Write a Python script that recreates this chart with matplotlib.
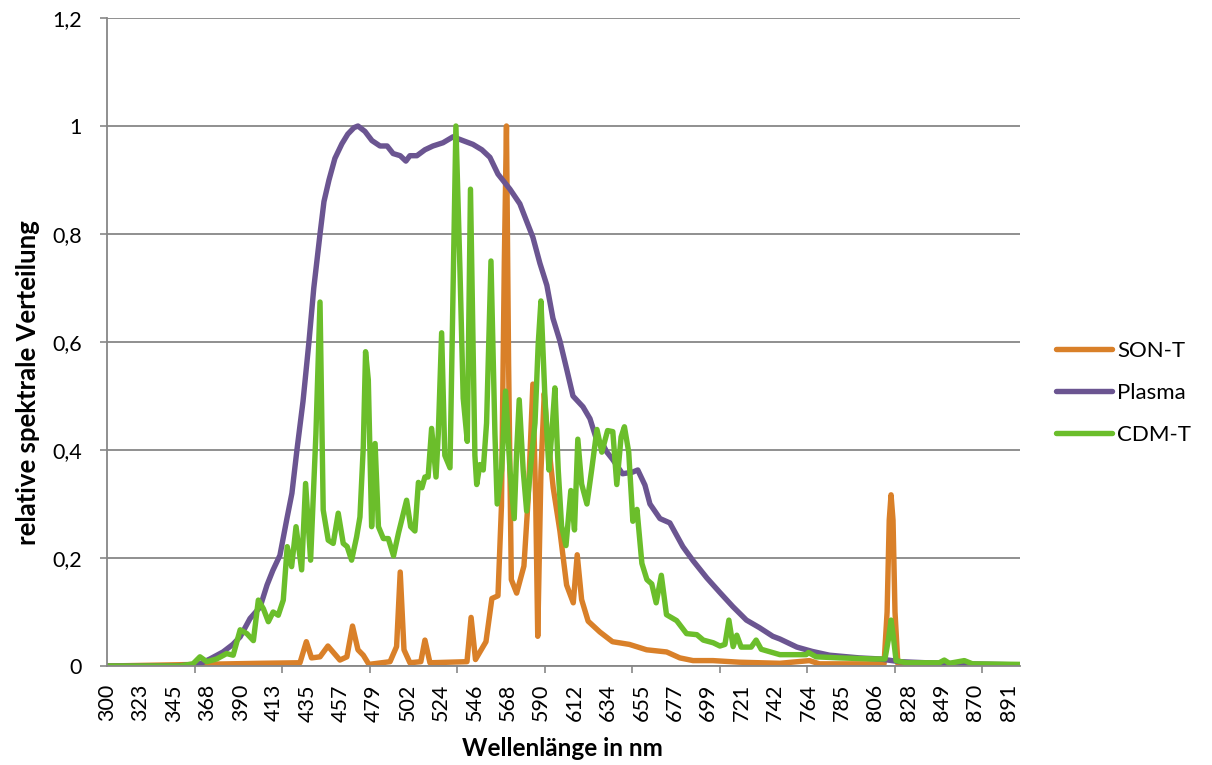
import numpy as np
import matplotlib
matplotlib.use("Agg")
import matplotlib.pyplot as plt

plt.rcParams['font.family'] = ['Lato', 'DejaVu Sans']

# Category labels on the wavelength axis (nm)
label_nm = [300, 323, 345, 368, 390, 413, 435, 457, 479, 502, 524, 546, 568, 590,
            612, 634, 655, 677, 699, 721, 742, 764, 785, 806, 828, 849, 870, 891]
axis_end_nm = 898

# SON-T (high pressure sodium)
son_nm = [300, 403.4, 430.1, 434.3, 437.7, 443.3, 448.5, 456.4, 461.0, 464.7, 468.3, 471.8,
          475.5, 489.9, 494.4, 496.9, 499.5, 503.5, 510.7, 513.4, 516.7, 541.1, 543.8, 546.7,
          553.6, 557.5, 561.5, 563.8, 565.7, 567.1, 568.5, 570.3, 573.8, 578.6, 581.4, 584.5,
          586.4, 587.7, 589.8, 592.0, 593.7, 597.9, 602.3, 606.7, 611.1, 613.7, 616.6, 620.9,
          628.6, 636.8, 647.4, 658.4, 671.6, 680.3, 689.0, 702.1, 719.6, 745.2, 764.6, 770.9,
          811.8, 813.8, 815.2, 816.4, 817.7, 819.0, 820.9, 898]
son_val = [0, 0.005, 0.006, 0.045, 0.015, 0.017, 0.037, 0.011, 0.017, 0.074, 0.03, 0.02,
           0.003, 0.008, 0.036, 0.174, 0.03, 0.006, 0.008, 0.048, 0.006, 0.008, 0.09, 0.012,
           0.045, 0.125, 0.13, 0.296, 0.75, 1.0, 0.56, 0.16, 0.135, 0.185, 0.31, 0.522,
           0.3, 0.055, 0.36, 0.505, 0.44, 0.33, 0.25, 0.15, 0.117, 0.206, 0.123, 0.083,
           0.063, 0.045, 0.04, 0.03, 0.026, 0.015, 0.01, 0.01, 0.007, 0.005, 0.01, 0.004,
           0.004, 0.1, 0.27, 0.317, 0.27, 0.1, 0.004, 0.002]

# Plasma lamp
plasma_nm = [300, 347.2, 363.0, 369.8, 378.4, 384.9, 389.7, 396.5, 403.4, 408.2, 412.2, 416.9,
             421.5, 424.8, 428.1, 432.1, 436.0, 439.2, 443.3, 445.9, 449.2, 453.1, 457.7, 461.6,
             465.7, 468.3, 472.9, 477.5, 483.0, 487.9, 492.0, 496.9, 500.8, 503.5, 508.1, 513.4,
             518.7, 525.3, 531.9, 538.4, 545.0, 550.9, 556.2, 561.5, 569.4, 575.9, 580.6, 584.5,
             589.1, 593.7, 597.7, 602.3, 606.9, 610.9, 617.5, 622.1, 626.7, 630.5, 633.0, 636.8,
             643.1, 649.4, 652.7, 657.3, 660.6, 667.2, 673.7, 682.3, 689.0, 698.1, 706.7, 715.2,
             724.0, 732.2, 740.6, 745.2, 756.4, 766.4, 777.2, 796.0, 809.2, 822.1, 847.3, 898]
plasma_val = [0, 0, 0.004, 0.013, 0.026, 0.04, 0.054, 0.088, 0.109, 0.15, 0.177, 0.205,
              0.273, 0.32, 0.4, 0.49, 0.6, 0.7, 0.8, 0.86, 0.9, 0.94, 0.967, 0.985,
              0.997, 1.0, 0.99, 0.973, 0.963, 0.963, 0.949, 0.945, 0.935, 0.945, 0.945, 0.956,
              0.963, 0.969, 0.98, 0.973, 0.966, 0.956, 0.942, 0.911, 0.883, 0.856, 0.822, 0.794,
              0.746, 0.705, 0.644, 0.602, 0.548, 0.5, 0.48, 0.458, 0.417, 0.411, 0.397, 0.383,
              0.356, 0.359, 0.363, 0.335, 0.3, 0.273, 0.265, 0.221, 0.195, 0.163, 0.136, 0.11,
              0.085, 0.071, 0.055, 0.05, 0.035, 0.027, 0.02, 0.015, 0.013, 0.008, 0.005, 0.002]

# CDM-T (ceramic metal halide)
cdm_nm = [300, 349.3, 358.2, 363.0, 367.7, 374.2, 380.8, 385.1, 389.7, 394.3,
          398.8, 402.2, 405.7, 409.1, 412.4, 415.8, 419.1, 421.7, 424.6, 427.5,
          431.2, 433.8, 437.1, 440.6, 443.3, 445.4, 448.7, 452.0, 455.3, 458.6,
          461.2, 464.1, 467.4, 469.6, 471.8, 473.3, 475.1, 477.3, 479.6, 481.9,
          485.3, 488.7, 492.3, 495.7, 499.1, 501.3, 504.0, 506.8, 509.1, 511.4,
          513.4, 515.5, 517.8, 520.7, 522.2, 524.4, 526.5, 529.9, 533.8, 536.5,
          538.6, 541.3, 543.4, 546.3, 547.5, 549.6, 551.8, 554.0, 556.9, 559.5,
          561.0, 563.9, 566.5, 569.4, 572.2, 573.8, 575.5, 578.1, 580.4, 583.7,
          585.9, 588.0, 589.8, 592.4, 595.1, 596.9, 599.0, 601.2, 603.4, 606.3,
          609.5, 611.9, 614.1, 616.6, 620.1, 623.2, 626.7, 629.9, 633.7, 637.0,
          639.5, 642.2, 644.3, 647.0, 649.6, 652.2, 655.3, 658.6, 661.8, 664.7,
          668.1, 671.5, 678.2, 684.7, 691.5, 695.7, 702.3, 706.7, 710.0, 712.6,
          715.4, 717.8, 720.7, 727.0, 730.1, 733.3, 745.2, 762.5, 764.0, 768.8,
          783.4, 804.7, 812.4, 814.7, 816.4, 818.1, 819.7, 826.4, 847.3, 850.4,
          853.6, 863.0, 868.1, 898]
cdm_val = [0, 0, 0.004, 0.017, 0.008, 0.013, 0.023, 0.02, 0.067, 0.06,
           0.047, 0.122, 0.106, 0.082, 0.1, 0.094, 0.122, 0.221, 0.184, 0.258,
           0.178, 0.338, 0.196, 0.43, 0.674, 0.289, 0.233, 0.227, 0.283, 0.227,
           0.221, 0.196, 0.239, 0.276, 0.406, 0.582, 0.53, 0.258, 0.412, 0.258,
           0.236, 0.236, 0.204, 0.246, 0.283, 0.307, 0.258, 0.25, 0.34, 0.33,
           0.35, 0.35, 0.44, 0.35, 0.43, 0.617, 0.39, 0.367, 1.0, 0.73,
           0.496, 0.416, 0.883, 0.39, 0.336, 0.373, 0.363, 0.45, 0.75, 0.43,
           0.3, 0.363, 0.509, 0.363, 0.273, 0.396, 0.493, 0.363, 0.287, 0.39,
           0.45, 0.596, 0.676, 0.5, 0.363, 0.43, 0.515, 0.363, 0.259, 0.223,
           0.325, 0.252, 0.42, 0.337, 0.3, 0.363, 0.438, 0.396, 0.436, 0.434,
           0.336, 0.424, 0.443, 0.396, 0.268, 0.29, 0.19, 0.16, 0.152, 0.117,
           0.168, 0.095, 0.084, 0.06, 0.058, 0.048, 0.043, 0.037, 0.04, 0.085,
           0.036, 0.057, 0.035, 0.035, 0.048, 0.031, 0.021, 0.021, 0.025, 0.017,
           0.015, 0.013, 0.013, 0.05, 0.085, 0.05, 0.01, 0.006, 0.006, 0.011,
           0.005, 0.01, 0.004, 0.003]

y_ticks = [0, 0.2, 0.4, 0.6, 0.8, 1.0, 1.2]
y_ticklabels = ["0", "0,2", "0,4", "0,6", "0,8", "1", "1,2"]

series = [
    ("SON-T", son_nm, son_val, "#D98029"),
    ("Plasma", plasma_nm, plasma_val, "#6B5591"),
    ("CDM-T", cdm_nm, cdm_val, "#6BBE2B"),
]

# category axis: labels are equally spaced, wavelengths map piecewise-linearly
cat_nm = label_nm + [label_nm[-1] + 21]
cat_pos = list(range(len(label_nm) + 1))


def nm_to_pos(nm):
    return np.interp(nm, cat_nm, cat_pos)


W, H = 1212, 765
fig = plt.figure(figsize=(W / 100, H / 100), dpi=100)
ax = fig.add_axes([107 / W, 1 - 666 / H, (1020 - 107) / W, (666 - 18) / H])

grey = "#878787"
for name, nm, val, col in series:
    ax.plot(nm_to_pos(np.array(nm)), val, color=col, lw=3.9, label=name,
            solid_joinstyle="round", solid_capstyle="round")

x_max = float(nm_to_pos(axis_end_nm))
ax.set_xlim(0, x_max)
ax.set_ylim(0, 1.2)

ax.set_yticks(y_ticks)
ax.set_yticklabels(y_ticklabels)
ax.yaxis.grid(True, color=grey, lw=1.3)
ax.set_axisbelow(True)

ax.set_xticks(np.arange(len(label_nm)))
ax.set_xticklabels([str(v) for v in label_nm], rotation=90)
ax.set_xticks(np.arange(0, x_max, 2.62), minor=True)

ax.tick_params(axis="x", which="major", length=0, pad=13, labelsize=15.5)
ax.tick_params(axis="x", which="minor", length=5, width=1.2, color=grey, direction="out")
ax.tick_params(axis="y", which="major", length=5, width=1.2, color=grey, pad=13, labelsize=15.5)

for side in ("top", "right"):
    ax.spines[side].set_visible(False)
for side in ("left", "bottom"):
    ax.spines[side].set_color(grey)
    ax.spines[side].set_linewidth(1.3)

fig.text(562 / W, 1 - 748 / H, "Wellenlänge in nm", ha="center", va="center",
         fontsize=17.5, fontweight="bold")
fig.text(28 / W, 1 - 383 / H, "relative spektrale Verteilung", ha="center", va="center",
         rotation=90, fontsize=18.5, fontweight="bold")

ax.legend(loc="center left", bbox_to_anchor=(1056 / W, 1 - 393 / H),
          bbox_transform=fig.transFigure, frameon=False, fontsize=16,
          handlelength=2.5, handletextpad=0.25, labelspacing=1.0,
          borderpad=0, borderaxespad=0)

fig.savefig("out.png", dpi=100)
